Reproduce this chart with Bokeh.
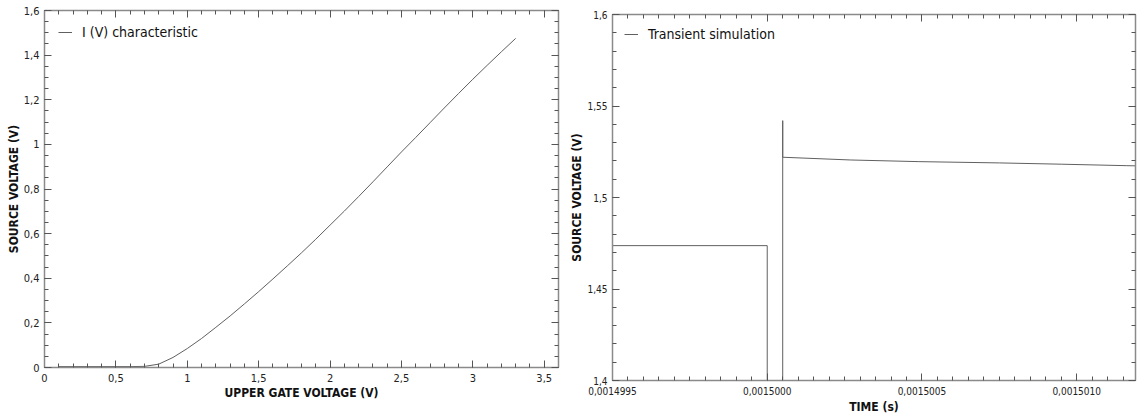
from bokeh.plotting import figure
from bokeh.layouts import row
from bokeh.models import LinearAxis, FixedTicker, Range1d, Legend, LegendItem, CustomLabelingPolicy
from bokeh.embed import file_html
from bokeh.resources import INLINE
import numpy as np

# ---------------- data: I(V) characteristic ----------------
gate_voltage = [0.1, 0.2, 0.3, 0.4, 0.5, 0.6, 0.7, 0.8, 0.9, 1.0, 1.1, 1.2, 1.3,
                1.4, 1.5, 1.6, 1.7, 1.8, 1.9, 2.0, 2.1, 2.2, 2.3, 2.4, 2.5, 2.6,
                2.7, 2.8, 2.9, 3.0, 3.1, 3.2, 3.3]
source_voltage_iv = [0.004, 0.004, 0.004, 0.004, 0.004, 0.004, 0.005, 0.015, 0.045,
                     0.085, 0.130, 0.180, 0.231, 0.285, 0.340, 0.397, 0.455, 0.514,
                     0.575, 0.638, 0.701, 0.766, 0.832, 0.899, 0.966, 1.031, 1.097,
                     1.163, 1.228, 1.292, 1.354, 1.415, 1.475]
iv_label = "I (V) characteristic"

# ---------------- data: transient simulation ----------------
time_s = [0.0014995, 0.0015000, 0.0015000, 0.00150005, 0.00150005, 0.00150005,
          0.00150027, 0.00150049, 0.00150075, 0.00150095, 0.00150116, 0.00150119]
source_voltage_tr = [1.4737, 1.4737, 1.20, 1.20, 1.542, 1.5220,
                     1.5205, 1.5196, 1.5189, 1.5182, 1.5174, 1.5173]
tr_label = "Transient simulation"

# ---------------- ticks ----------------
iv_x_ticks = [0, 0.5, 1, 1.5, 2, 2.5, 3, 3.5]
iv_x_labels = ["0", "0,5", "1", "1,5", "2", "2,5", "3", "3,5"]
iv_y_ticks = [0, 0.2, 0.4, 0.6, 0.8, 1.0, 1.2, 1.4, 1.6]
iv_y_labels = ["0", "0,2", "0,4", "0,6", "0,8", "1", "1,2", "1,4", "1,6"]

tr_x_ticks = [0.0014995, 0.0015000, 0.0015005, 0.0015010]
tr_x_labels = ["0,0014995", "0,0015000", "0,0015005", "0,0015010"]
tr_y_ticks = [1.4, 1.45, 1.5, 1.55, 1.6]
tr_y_labels = ["1,4", "1,45", "1,5", "1,55", "1,6"]

FONT = "DejaVu Sans Condensed"
AX_COLOR = "#8a8a8a"
TICK_COLOR = "#555555"
LINE_COLOR = "#606060"


def make_ticker(major, step, lo, hi):
    minor = list(np.round(np.arange(lo, hi + step / 2, step), 12))
    return FixedTicker(ticks=major, minor_ticks=minor)


def style_axis(ax, tick_fs, show_labels=True):
    ax.axis_line_color = AX_COLOR
    ax.axis_line_width = 1.5
    ax.major_tick_in = 7
    ax.major_tick_out = 0
    ax.minor_tick_in = 4
    ax.minor_tick_out = 0
    ax.major_tick_line_color = TICK_COLOR
    ax.minor_tick_line_color = TICK_COLOR
    if show_labels:
        ax.major_label_text_font = FONT
        ax.major_label_text_font_size = tick_fs
        ax.major_label_text_color = "#222222"
        ax.axis_label_text_font = FONT
        ax.axis_label_text_font_size = "12px"
        ax.axis_label_text_font_style = "bold"
        ax.axis_label_text_color = "#111111"
    else:
        ax.major_label_text_font_size = "1px"
        ax.major_label_standoff = 0
        ax.major_label_policy = CustomLabelingPolicy(code="return []")


def build(width, height, xr, yr, xt, yt, xlabel, ylabel, tick_fs, xs, ys, label,
          borders, x_standoff, x_label_standoff, y_standoff, legend_margin):
    p = figure(width=width, height=height, x_range=Range1d(*xr), y_range=Range1d(*yr),
               output_backend="svg", toolbar_location=None,
               x_axis_label=xlabel, y_axis_label=ylabel)
    if "frame_align" in p.properties():
        p.frame_align = False
    p.min_border_left, p.min_border_right, p.min_border_top, p.min_border_bottom = borders
    p.xgrid.visible = False
    p.ygrid.visible = False
    p.outline_line_color = AX_COLOR
    p.background_fill_color = "white"
    p.border_fill_color = "white"

    xticker, xlab = xt
    yticker, ylab = yt
    for ax in p.xaxis:
        ax.ticker = xticker
        ax.major_label_overrides = xlab
        style_axis(ax, tick_fs)
        ax.major_label_standoff = x_standoff
        ax.axis_label_standoff = x_label_standoff
    for ax in p.yaxis:
        ax.ticker = yticker
        ax.major_label_overrides = ylab
        style_axis(ax, tick_fs)
        ax.major_label_standoff = y_standoff
        ax.axis_label_standoff = 0

    top = LinearAxis(ticker=xticker)
    style_axis(top, tick_fs, show_labels=False)
    p.add_layout(top, "above")
    right = LinearAxis(ticker=yticker)
    style_axis(right, tick_fs, show_labels=False)
    p.add_layout(right, "right")

    r = p.line(xs, ys, line_color=LINE_COLOR, line_width=1)
    legend = Legend(items=[LegendItem(label=label, renderers=[r])], location="top_left")
    legend.border_line_color = None
    legend.background_fill_alpha = 0
    legend.margin = legend_margin
    legend.padding = 0
    legend.glyph_width = 14
    legend.glyph_height = 12
    legend.label_height = 12
    legend.label_standoff = 10
    legend.label_text_font = FONT
    legend.label_text_font_size = "14px"
    legend.label_text_color = "#111111"
    p.add_layout(legend)
    return p


p1 = build(562, 417, (0, 3.6), (0, 1.6),
           (make_ticker(iv_x_ticks, 0.1, 0, 3.6), dict(zip(iv_x_ticks, iv_x_labels))),
           (make_ticker(iv_y_ticks, 0.05, 0, 1.6), dict(zip(iv_y_ticks, iv_y_labels))),
           "UPPER GATE VOLTAGE (V)", "SOURCE VOLTAGE (V)", "11px",
           gate_voltage, source_voltage_iv, iv_label,
           (44, 4, 10, 50), 6, 1, 5, 14)

p2 = build(578, 417, (0.0014995, 0.00150119), (1.4, 1.6),
           (make_ticker(tr_x_ticks, 0.00000005, 0.0014995, 0.00150119), dict(zip(tr_x_ticks, tr_x_labels))),
           (make_ticker(tr_y_ticks, 0.01, 1.4, 1.6), dict(zip(tr_y_ticks, tr_y_labels))),
           "TIME (s)", "SOURCE VOLTAGE (V)", "10px",
           time_s, source_voltage_tr, tr_label,
           (50, 2, 14, 37), 6, 2, 5, 12)

layout = row(p1, p2)
open("out.html", "w").write(file_html(layout, INLINE))
